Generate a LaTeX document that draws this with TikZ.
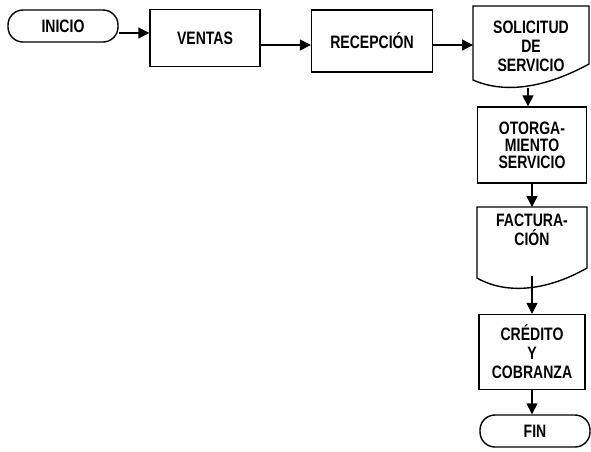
\documentclass[tikz,border=0pt]{standalone}
\usepackage{fontspec}
\setmainfont{Liberation Sans}[FakeStretch=0.78]
\usetikzlibrary{arrows.meta}
\begin{document}
\begin{tikzpicture}[x=1pt,y=-1pt,
  every node/.style={font=\bfseries\fontsize{18}{19}\selectfont, align=center, inner sep=0pt},
  caja/.style={draw, line width=1.4pt},
  terminal/.style={draw, line width=1.4pt, rounded corners=15pt, minimum width=110pt, minimum height=32pt},
  doc/.style={line width=1.4pt},
  flecha/.style={line width=1.4pt, -{Triangle[length=11pt,width=11pt]}}]
\useasboundingbox (0,0) rectangle (591,451);
% fila de arriba
\node[terminal] (inicio) at (63,26) {INICIO};
\node[caja, minimum width=110pt, minimum height=57pt] (ventas) at (205,38) {VENTAS};
\node[caja, minimum width=121pt, minimum height=62pt] (recepcion) at (372,41) {RECEPCI\'ON};
\node (solicitud) at (531,46) {SOLICITUD\\DE\\SERVICIO};
\coordinate (solNW) at (473,6);
\coordinate (solbase) at (528,88);
\draw[doc] (solNW) -- (589,6) -- (589,64) .. controls (545,88) and (505,94) .. (473,80) -- cycle;
% columna derecha
\node[caja, minimum width=109pt, minimum height=76pt, font=\bfseries\fontsize{18}{17}\selectfont] (otorgamiento) at (532,145) {OTORGA-\\MIENTO\\SERVICIO};
\node (facturacion) at (532,230) {FACTURA-\\CI\'ON};
\coordinate (factNW) at (477,207);
\coordinate (factbase) at (532,276);
\draw[doc] (factNW) -- (587,207) -- (587,268) .. controls (545,292) and (505,294) .. (477,278) -- cycle;
\node[caja, minimum width=106pt, minimum height=75pt] (credito) at (532,352) {CR\'EDITO\\Y\\COBRANZA};
\node[terminal] (fin) at (535,431) {FIN};
% flechas
\draw[flecha] (inicio.east |- 0,33) -- (ventas.west |- 0,33);
\draw[flecha] (ventas.east |- 0,45) -- (recepcion.west |- 0,45);
\draw[flecha] (recepcion.east |- 0,45) -- (solNW |- 0,45);
\draw[flecha] (solbase) -- (solbase |- otorgamiento.north);
\draw[flecha] (otorgamiento.south) -- (otorgamiento.south |- factNW);
\draw[flecha] (factbase) -- (credito.north);
\draw[flecha] (credito.south) -- (credito.south |- fin.north);
\end{tikzpicture}
\end{document}
